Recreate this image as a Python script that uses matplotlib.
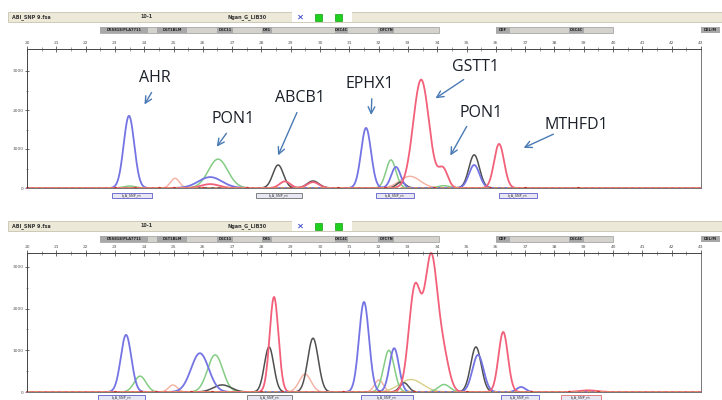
import numpy as np
import matplotlib.pyplot as plt
from matplotlib.patches import Rectangle

W, H = 722, 400

# size axis (nt) and signal ticks
size_ticks = list(range(20, 44))
rfu_ticks = [0, 1000, 2000, 3000]

# ---- run 1 (top) : peak tables per dye, (size, height, width)
t_blue_pos = [23.48, 26.25, 31.57, 32.59, 35.26]
t_blue_ht = [1850, 280, 1540, 540, 590]
t_blue_wd = [0.18, 0.40, 0.17, 0.16, 0.18]

t_green_pos = [23.50, 26.52, 32.42, 34.23]
t_green_ht = [50, 740, 720, 60]
t_green_wd = [0.20, 0.33, 0.17, 0.20]

t_red_pos = [26.25, 28.80, 29.76, 33.45, 34.20, 36.11]
t_red_ht = [100, 170, 150, 2780, 480, 1130]
t_red_wd = [0.30, 0.18, 0.20, 0.27, 0.16, 0.17]

t_black_pos = [28.57, 29.76, 32.76, 35.26]
t_black_ht = [590, 180, 150, 850]
t_black_wd = [0.18, 0.20, 0.15, 0.18]

t_salmon_pos = [25.05, 33.07]
t_salmon_ht = [250, 300]
t_salmon_wd = [0.15, 0.35]

# ---- run 2 (bottom)
b_blue_pos = [23.38, 25.90, 31.50, 32.53, 35.39, 36.86]
b_blue_ht = [1370, 930, 2160, 1050, 890, 120]
b_blue_wd = [0.18, 0.30, 0.17, 0.16, 0.19, 0.15]

b_green_pos = [23.86, 26.42, 32.35, 34.23]
b_green_ht = [380, 890, 1000, 180]
b_green_wd = [0.20, 0.26, 0.18, 0.20]

b_red_pos = [28.43, 33.24, 33.79, 34.20, 36.25, 39.15]
b_red_ht = [2280, 2500, 3150, 850, 1440, 40]
b_red_wd = [0.15, 0.21, 0.21, 0.20, 0.16, 0.30]

b_black_pos = [26.66, 28.26, 29.76, 32.87, 35.32]
b_black_ht = [170, 1080, 1290, 220, 1080]
b_black_wd = [0.30, 0.16, 0.18, 0.15, 0.18]

b_salmon_pos = [24.98, 29.49, 32.01]
b_salmon_ht = [170, 430, 290]
b_salmon_wd = [0.15, 0.20, 0.15]

b_olive_pos = [33.10]
b_olive_ht = [300]
b_olive_wd = [0.40]

# baseline peak-call markers
t_marks = [20.0, 23.0, 23.7, 24.5, 25.0, 26.0, 27.5, 29.0, 30.6, 32.2, 33.9, 35.8, 37.0, 38.8]
b_marks = [23.0, 23.9, 24.4, 25.6, 26.3, 28.0, 28.7, 30.8, 32.0, 33.2, 35.0, 37.2, 38.5, 39.5]

labels = ["AHR", "PON1", "ABCB1", "EPHX1", "GSTT1", "PON1", "MTHFD1"]
label_xy = [(24.37, 2820), (27.03, 1770), (29.32, 2310), (31.71, 2670),
            (35.32, 3100), (35.50, 1920), (38.74, 1620)]
arrow_from = [(24.30, 2510), (26.86, 1460), (29.25, 2000), (31.77, 2360),
              (34.98, 2820), (35.05, 1640), (38.05, 1410)]
arrow_to = [(23.96, 2080), (26.42, 1000), (28.53, 770), (31.74, 1800),
            (33.86, 2260), (34.40, 770), (36.86, 1000)]

xs = np.linspace(20, 43, 2000)


def trace(pos, ht, wd):
    y = np.zeros_like(xs)
    for p, h, w in zip(pos, ht, wd):
        y += h * np.exp(-0.5 * ((xs - p) / w) ** 2)
    return y


def fx(px):
    return px / W


def fy(py):
    return 1 - py / H


def header(fig, top):
    # title strip
    fig.patches.append(Rectangle((fx(8), fy(top + 10)), fx(714), 10 / H,
                                 transform=fig.transFigure, fc="#ece9d8", ec="#c8c4b0", lw=0.6))
    fig.text(fx(12), fy(top + 5), "ABI_SNP 9.fsa", fontsize=3.5, weight="bold", va="center", color="#333")
    fig.text(fx(140), fy(top + 5), "10-1", fontsize=3.5, weight="bold", va="center", color="#333")
    fig.text(fx(228), fy(top + 5), "Ngan_G_LIB30", fontsize=3.5, weight="bold", va="center", color="#333")
    fig.patches.append(Rectangle((fx(292), fy(top + 10)), 60 / W, 10 / H,
                                 transform=fig.transFigure, fc="white", ec="none"))
    fig.text(fx(300), fy(top + 5), "✕", fontsize=6, va="center", ha="center", color="#2030c0")
    for gx in (315, 335):
        fig.patches.append(Rectangle((fx(gx), fy(top + 8.5)), 7 / W, 7 / H,
                                     transform=fig.transFigure, fc="#20d020", ec="#10a010", lw=0.5))
    # panel strip
    y0 = top + 15
    for a, b in [(100, 439), (496, 613)]:
        fig.patches.append(Rectangle((fx(a), fy(y0 + 6)), (b - a) / W, 6 / H,
                                     transform=fig.transFigure, fc="#d4d2cc", ec="#9a9a9a", lw=0.5))
    for a, b, s in [(100, 148, "D5S818/PLA7711"), (157, 187, "D6T1BLM"), (217, 233, "D6C11"),
                    (262, 272, "D81"), (335, 348, "D8C4C"), (378, 394, "D7C7N"),
                    (496, 510, "DEF"), (569, 584, "D6C4C"), (701, 720, "DEL/M")]:
        fig.patches.append(Rectangle((fx(a), fy(y0 + 6)), (b - a) / W, 6 / H,
                                     transform=fig.transFigure, fc="#a8a8a8", ec="none"))
        fig.text(fx((a + b) / 2), fy(y0 + 3), s, fontsize=2.6, ha="center", va="center",
                 color="#222", weight="bold")


def bins(fig, ypx, boxes):
    for a, b, ec in boxes:
        fig.patches.append(Rectangle((fx(a), fy(ypx + 5)), (b - a) / W, 5 / H,
                                     transform=fig.transFigure, fc="#e8e8f4", ec=ec, lw=0.7))
        fig.text(fx((a + b) / 2), fy(ypx + 2.5), "b_A_SNP_nt", fontsize=2.4,
                 ha="center", va="center", color="#333")


def panel(ax, ymax, series, marks):
    for pos, ht, wd, col, lw in series:
        ax.plot(xs, trace(pos, ht, wd), color=col, lw=lw, clip_on=False)
    ax.plot(xs, np.zeros_like(xs) + 8, color="#e09060", lw=0.8, ls=(0, (4, 2)))
    ax.plot(marks, [8] * len(marks), ls="none", marker="o", ms=1.4, color="#d03030")
    ax.set_xlim(20, 43)
    ax.set_ylim(0, ymax)
    ax.xaxis.tick_top()
    ax.set_xticks(size_ticks)
    ax.set_xticks(np.arange(20.5, 43, 1), minor=True)
    ax.tick_params(axis="x", which="major", direction="inout", length=4, width=0.6,
                   labelsize=3.2, labelcolor="#555", pad=1, colors="#555")
    ax.tick_params(axis="x", which="minor", direction="inout", length=2.5, width=0.5, colors="#777")
    ax.set_yticks(rfu_ticks)
    ax.set_yticks([500, 1500, 2500], minor=True)
    ax.tick_params(axis="y", which="major", direction="inout", length=3, width=0.6,
                   labelsize=3.2, labelcolor="#555", pad=1, colors="#555")
    ax.tick_params(axis="y", which="minor", direction="inout", length=2, width=0.5, colors="#777")
    for s in ax.spines.values():
        s.set_linewidth(0.7)
        s.set_color("#777")
    ax.spines["left"].set_color("#444")
    ax.spines["top"].set_color("#444")


fig = plt.figure(figsize=(W / 100, H / 100), dpi=100)
fig.patch.set_facecolor("white")

c_blue, c_green, c_red, c_black, c_salmon, c_olive = "#7474e4", "#84cc84", "#f2607a", "#505050", "#f4b0a0", "#d8d088"

header(fig, 12)
ax1 = fig.add_axes([fx(27), fy(188), (701 - 27) / W, (188 - 49) / H])
panel(ax1, 139 / 39 * 1000, [
    (t_salmon_pos, t_salmon_ht, t_salmon_wd, c_salmon, 1.0),
    (t_green_pos, t_green_ht, t_green_wd, c_green, 1.1),
    (t_black_pos, t_black_ht, t_black_wd, c_black, 1.1),
    (t_blue_pos, t_blue_ht, t_blue_wd, c_blue, 1.3),
    (t_red_pos, t_red_ht, t_red_wd, c_red, 1.3),
], t_marks)
bins(fig, 193, [(112, 152, "#7070d0"), (256, 302, "#808080"), (376, 414, "#7070d0"), (499, 537, "#7070d0")])

for s, xy, a, b in zip(labels, label_xy, arrow_from, arrow_to):
    ax1.text(xy[0], xy[1], s, fontsize=11.5, family="Open Sans", color="#1a1f28", ha="center", va="center")
    ax1.annotate("", xy=b, xytext=a,
                 arrowprops=dict(arrowstyle="->", color="#4a7ab4", lw=1.0, mutation_scale=12))

header(fig, 221)
ax2 = fig.add_axes([fx(27), fy(392), (701 - 27) / W, (392 - 253) / H])
panel(ax2, 139 / 41.7 * 1000, [
    (b_salmon_pos, b_salmon_ht, b_salmon_wd, c_salmon, 1.0),
    (b_olive_pos, b_olive_ht, b_olive_wd, c_olive, 1.0),
    (b_green_pos, b_green_ht, b_green_wd, c_green, 1.1),
    (b_black_pos, b_black_ht, b_black_wd, c_black, 1.1),
    (b_blue_pos, b_blue_ht, b_blue_wd, c_blue, 1.3),
    (b_red_pos, b_red_ht, b_red_wd, c_red, 1.3),
], b_marks)
bins(fig, 395, [(98, 145, "#7070d0"), (247, 292, "#808080"), (361, 413, "#7070d0"),
                (501, 539, "#7070d0"), (561, 601, "#e08080")])

fig.savefig("out.png", dpi=100)
